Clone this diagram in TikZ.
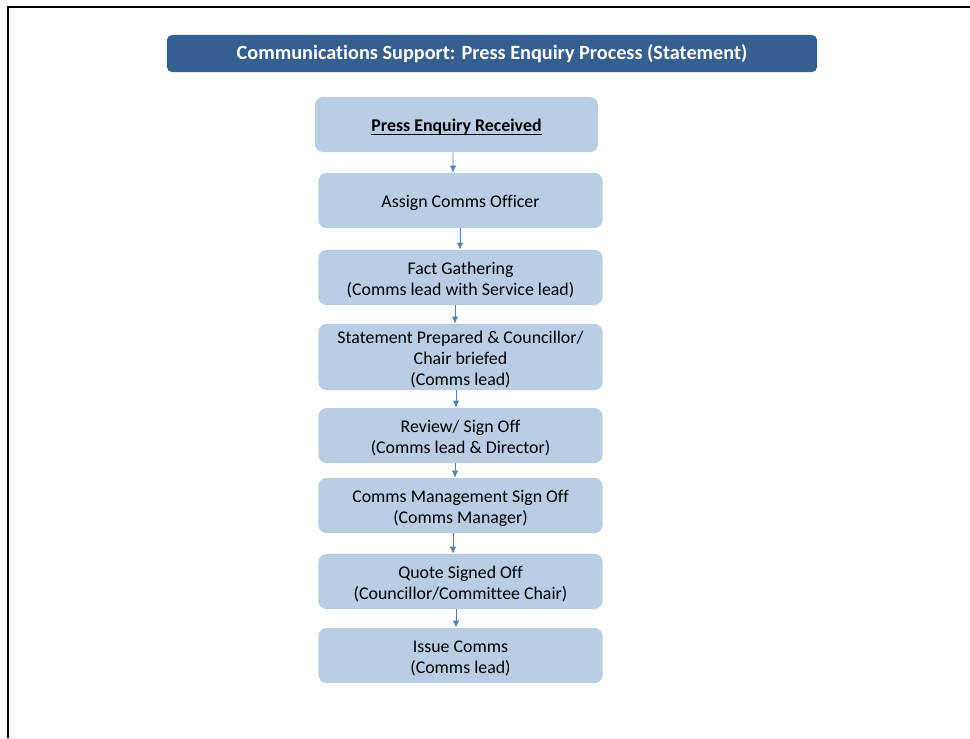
\documentclass[tikz,border=0pt]{standalone}
\usepackage{fontspec}
\setmainfont{Carlito}[Ligatures=NoCommon]
\usetikzlibrary{arrows.meta}
\definecolor{titleblue}{RGB}{54,95,145}
\definecolor{boxblue}{RGB}{185,205,229}
\definecolor{arrowblue}{RGB}{79,129,189}
\newcommand\ulbox[1]{\setbox0\hbox{#1}\rlap{\rule[-1.9pt]{\wd0}{0.7pt}}\box0}
\newcommand\tstrut{\rule{0pt}{13.6pt}}% first line height
\tikzset{
  titlebox/.style={fill=titleblue, rounded corners=0.13cm, minimum width=16.25cm,
    minimum height=0.925cm, text=white, font=\fontsize{14.4}{17}\selectfont\bfseries,
    execute at begin node={\rule{0pt}{12pt}}, execute at end node={\rule[-3.8pt]{0pt}{3.8pt}}},
  stepbox/.style={fill=boxblue, rounded corners=0.2cm, minimum width=7.1cm,
    minimum height=1.375cm, align=center, font=\fontsize{12.7}{15.2}\selectfont,
    execute at end node={\rule[-3pt]{0pt}{3pt}}},
  flow/.style={arrowblue, semithick, -{Latex[length=5pt,width=4.5pt]}}
}
\begin{document}
\begin{tikzpicture}[x=0.025cm,y=-0.025cm]
    \useasboundingbox (0,0) rectangle (970,738);
    \draw[line width=1.6pt] (8,738) -- (8,7) -- (970,7);% frame
    \node[titlebox] (title) at (492,53.5) {Communications Support: Press Enquiry Process (Statement)};
    \node[stepbox, minimum width=7.075cm] (received) at (456.5,124.5) {\tstrut\ulbox{\textbf{Press Enquiry Received}}};
    \node[stepbox] (assign) at (460.5,200.5) {\tstrut Assign Comms Officer};
    \node[stepbox] (facts) at (460.5,277.5) {\tstrut Fact Gathering\\(Comms lead with Service lead)};
    \node[stepbox, inner ysep=0pt, minimum height=1.65cm] (prepare) at (460.5,357) {\tstrut Statement Prepared \& Councillor/\\Chair briefed\\(Comms lead)};
    \node[stepbox] (review) at (460.5,435.5) {\tstrut Review/ Sign Off\\(Comms lead \& Director)};
    \node[stepbox] (manager) at (460.5,505.5) {\tstrut Comms Management Sign Off\\(Comms Manager)};
    \node[stepbox] (quote) at (460.5,581.5) {\tstrut Quote Signed Off\\(Councillor/Committee Chair)};
    \node[stepbox] (issue) at (460.5,655.5) {\tstrut Issue Comms\\(Comms lead)};
    \draw[flow] ([xshift=-0.0875cm]received.south) -- ([xshift=-0.1875cm]assign.north);
    \draw[flow] ([xshift=-0.0125cm]assign.south) -- ([xshift=-0.0125cm]facts.north);
    \draw[flow] ([xshift=-0.1375cm]facts.south) -- ([xshift=-0.1375cm]prepare.north);
    \draw[flow] ([xshift=-0.1125cm]prepare.south) -- ([xshift=-0.1125cm]review.north);
    \draw[flow] ([xshift=-0.1375cm]review.south) -- ([xshift=-0.1375cm]manager.north);
    \draw[flow] ([xshift=-0.1875cm]manager.south) -- ([xshift=-0.1875cm]quote.north);
    \draw[flow] ([xshift=-0.1125cm]quote.south) -- ([xshift=-0.1125cm]issue.north);
  \end{tikzpicture}
\end{document}
